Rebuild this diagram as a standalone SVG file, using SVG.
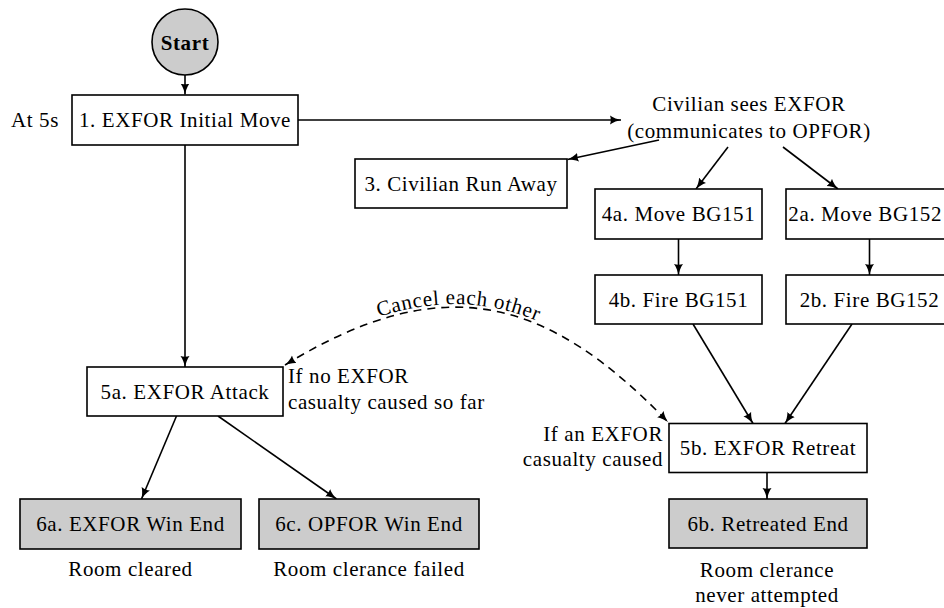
<svg xmlns="http://www.w3.org/2000/svg" width="944" height="608" viewBox="0 0 944 608" font-family="Liberation Serif, serif" font-size="21">
<style>
text{font-family:'Liberation Serif',serif;font-size:21px;letter-spacing:0.6px;fill:#000}
.c{text-anchor:middle}
.e{text-anchor:end}
.box{fill:#fff;stroke:#000;stroke-width:1.6}
.end{fill:#ccc;stroke:#000;stroke-width:1.6}
.ln{fill:none;stroke:#000;stroke-width:1.6;marker-end:url(#ah)}
.dash{fill:none;stroke:#000;stroke-width:1.6;stroke-dasharray:8 6;marker-start:url(#ah);marker-end:url(#ah)}
</style>
<defs>
<marker id="ah" markerUnits="userSpaceOnUse" markerWidth="12" markerHeight="10" viewBox="0 0 12 10" refX="11" refY="5" orient="auto-start-reverse">
<path d="M11,5 C8,5.6 3,7.2 0,9.5 C1,7 1,3 0,0.5 C3,2.8 8,4.4 11,5z" fill="#000"/>
</marker>
</defs>
<rect width="944" height="608" fill="#fff"/>
<g id="connectors">
<path class="ln" d="M185,75 L185,94.5"/>
<path class="ln" d="M298,120 L621,120"/>
<path class="ln" d="M659,140 L567.5,159.5"/>
<path class="ln" d="M728,147 L696,189"/>
<path class="ln" d="M783,147 L838,189"/>
<path class="ln" d="M678.5,239 L678.5,275"/>
<path class="ln" d="M869.5,239 L869.5,275"/>
<path class="ln" d="M693,324 L753,423.5"/>
<path class="ln" d="M852,324 L785,423.5"/>
<path class="ln" d="M767,472.5 L767,499"/>
<path class="ln" d="M185,145 L185,367"/>
<path class="ln" d="M176.5,416 L141.5,499"/>
<path class="ln" d="M218,416 L336.5,499"/>
<path id="cancel" class="dash" d="M285,365 C446,266 550,300 668,422"/>
<text><textPath href="#cancel" startOffset="43%" text-anchor="middle"><tspan dy="-3">Cancel each other</tspan></textPath></text>
</g>
<g id="start">
<circle cx="185" cy="42" r="33" class="end"/>
<text class="c" x="185" y="50" font-weight="bold">Start</text>
</g>
<g id="n1">
<rect class="box" x="72" y="95" width="226" height="50"/>
<text class="c" x="185" y="127">1. EXFOR Initial Move</text>
<text class="e" x="59" y="127">At 5s</text>
</g>
<g id="civ">
<text class="c" x="749" y="111">Civilian sees EXFOR</text>
<text class="c" x="749" y="138">(communicates to OPFOR)</text>
</g>
<g id="n3">
<rect class="box" x="355" y="159" width="212" height="49"/>
<text class="c" x="461" y="191">3. Civilian Run Away</text>
</g>
<g id="n4a">
<rect class="box" x="595" y="189" width="167" height="50"/>
<text class="c" x="678.5" y="221">4a. Move BG151</text>
</g>
<g id="n2a">
<rect class="box" x="786" y="189" width="167" height="50"/>
<text class="e" x="942" y="221">2a. Move BG152</text>
</g>
<g id="n4b">
<rect class="box" x="595" y="275" width="167" height="49"/>
<text class="c" x="678.5" y="306.5">4b. Fire BG151</text>
</g>
<g id="n2b">
<rect class="box" x="786" y="275" width="167" height="49"/>
<text class="c" x="869.5" y="306.5">2b. Fire BG152</text>
</g>
<g id="n5a">
<rect class="box" x="87" y="367" width="196" height="49"/>
<text class="c" x="185" y="398.5">5a. EXFOR Attack</text>
<text x="288" y="383">If no EXFOR</text>
<text x="288" y="409">casualty caused so far</text>
</g>
<g id="n5b">
<rect class="box" x="669" y="423.5" width="198" height="49"/>
<text class="c" x="768" y="455">5b. EXFOR Retreat</text>
<text class="e" x="663" y="441">If an EXFOR</text>
<text class="e" x="663" y="466">casualty caused</text>
</g>
<g id="n6a">
<rect class="end" x="20" y="499" width="221" height="50"/>
<text class="c" x="130.5" y="531">6a. EXFOR Win End</text>
<text class="c" x="130.5" y="576">Room cleared</text>
</g>
<g id="n6c">
<rect class="end" x="259" y="499" width="220" height="50"/>
<text class="c" x="369" y="531">6c. OPFOR Win End</text>
<text class="c" x="369" y="576">Room clerance failed</text>
</g>
<g id="n6b">
<rect class="end" x="669" y="499" width="198" height="49"/>
<text class="c" x="768" y="531">6b. Retreated End</text>
<text class="c" x="767" y="577">Room clerance</text>
<text class="c" x="767" y="602">never attempted</text>
</g>
</svg>
